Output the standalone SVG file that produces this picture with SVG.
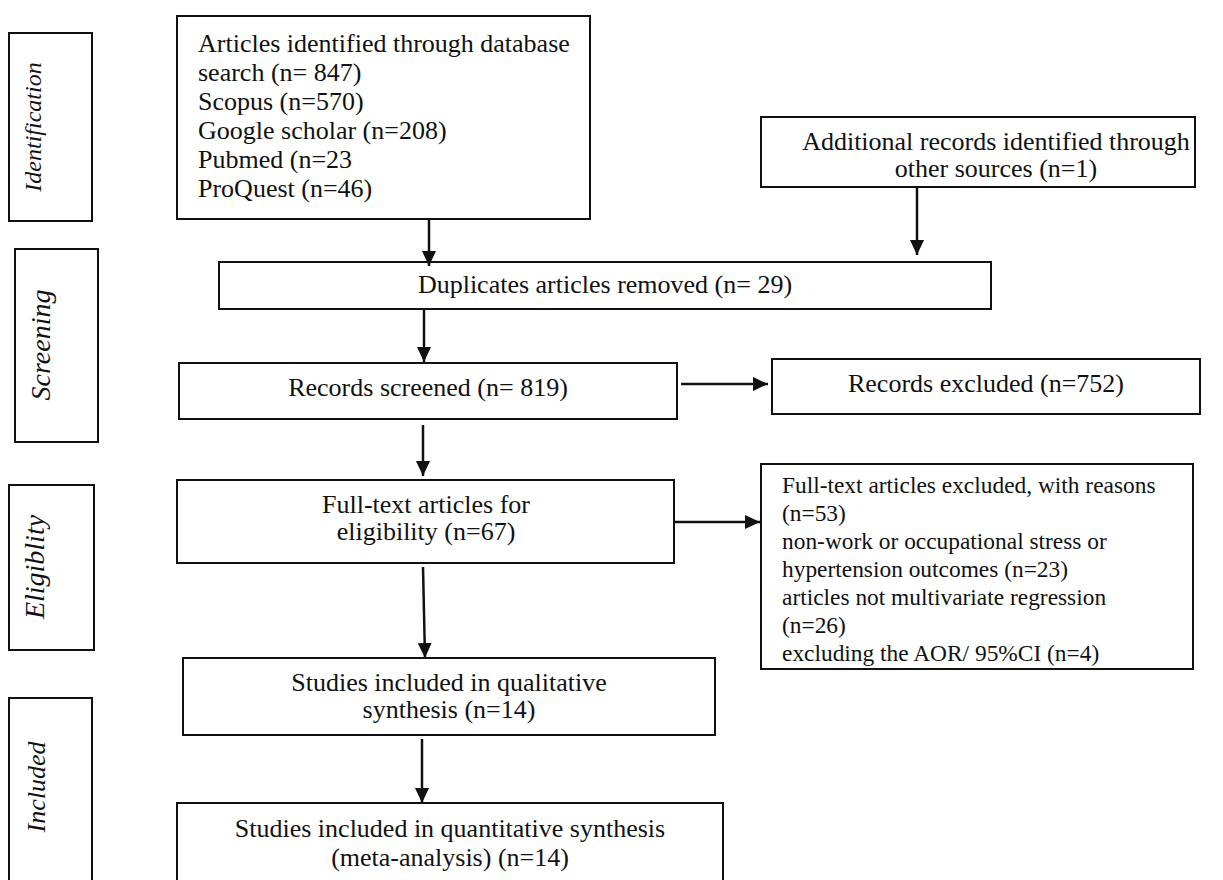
<svg xmlns="http://www.w3.org/2000/svg" width="1223" height="880" viewBox="0 0 1223 880">
<style>
.box{fill:#fff;stroke:#111;stroke-width:2}
.t{font-family:"Liberation Serif","Times New Roman",serif;font-size:26px;fill:#111}
.c{text-anchor:middle}
.s{font-size:23.4px}
.lab{font-family:"Liberation Serif","Times New Roman",serif;font-style:italic;fill:#111;text-anchor:middle}
.ar{stroke:#111;stroke-width:2.5;fill:none;marker-end:url(#ah)}
</style>
<defs>
<marker id="ah" markerUnits="userSpaceOnUse" markerWidth="16" markerHeight="14" refX="15" refY="7" orient="auto">
<path d="M0,0 L15,7 L0,14 z" fill="#111"/>
</marker>
</defs>
<rect width="1223" height="880" fill="#fff"/>

<g id="label-identification">
<rect class="box" x="9" y="33" width="83" height="188"/>
<text class="lab" font-size="24" transform="translate(41,127) rotate(-90)">Identification</text>
</g>
<g id="label-screening">
<rect class="box" x="15" y="249" width="83" height="193"/>
<text class="lab" font-size="28" transform="translate(50,345) rotate(-90)">Screening</text>
</g>
<g id="label-eligibility">
<rect class="box" x="9" y="485" width="85" height="165"/>
<text class="lab" font-size="28" transform="translate(44,567) rotate(-90)">Eligiblity</text>
</g>
<g id="label-included">
<rect class="box" x="9" y="698" width="83" height="190"/>
<text class="lab" font-size="26" transform="translate(45,787) rotate(-90)">Included</text>
</g>

<g id="node-identified">
<rect class="box" x="177" y="16" width="413" height="203"/>
<text class="t" x="198" y="52">Articles identified through database</text>
<text class="t" x="198" y="81">search (n= 847)</text>
<text class="t" x="198" y="110">Scopus (n=570)</text>
<text class="t" x="198" y="139">Google scholar (n=208)</text>
<text class="t" x="198" y="168">Pubmed (n=23</text>
<text class="t" x="198" y="197">ProQuest (n=46)</text>
</g>
<g id="node-additional">
<rect class="box" x="761" y="117" width="434" height="70"/>
<text class="t c" x="996" y="150">Additional records identified through</text>
<text class="t c" x="996" y="177">other sources (n=1)</text>
</g>
<g id="node-duplicates">
<rect class="box" x="219" y="262" width="772" height="47"/>
<text class="t c" x="605" y="293">Duplicates articles removed (n= 29)</text>
</g>
<g id="node-screened">
<rect class="box" x="179" y="363" width="498" height="56"/>
<text class="t c" x="428" y="396">Records screened (n= 819)</text>
</g>
<g id="node-excluded">
<rect class="box" x="772" y="359" width="428" height="55"/>
<text class="t c" x="986" y="392">Records excluded (n=752)</text>
</g>
<g id="node-fulltext">
<rect class="box" x="177" y="480" width="497" height="83"/>
<text class="t c" x="426" y="513">Full-text articles for</text>
<text class="t c" x="426" y="540">eligibility (n=67)</text>
</g>
<g id="node-fulltext-excluded">
<rect class="box" x="761" y="464" width="432" height="205"/>
<text class="t s" x="782" y="493">Full-text articles excluded, with reasons</text>
<text class="t s" x="782" y="521">(n=53)</text>
<text class="t s" x="782" y="549">non-work or occupational stress or</text>
<text class="t s" x="782" y="577">hypertension outcomes (n=23)</text>
<text class="t s" x="782" y="605">articles not multivariate regression</text>
<text class="t s" x="782" y="633">(n=26)</text>
<text class="t s" x="782" y="661">excluding the AOR/ 95%CI (n=4)</text>
</g>
<g id="node-qualitative">
<rect class="box" x="183" y="658" width="532" height="77"/>
<text class="t c" x="449" y="691">Studies included in qualitative</text>
<text class="t c" x="449" y="718">synthesis (n=14)</text>
</g>
<g id="node-quantitative">
<rect class="box" x="177" y="803" width="546" height="100"/>
<text class="t c" x="450" y="837">Studies included in quantitative synthesis</text>
<text class="t c" x="450" y="866">(meta-analysis) (n=14)</text>
</g>

<g id="connectors">
<line class="ar" x1="429" y1="219" x2="429" y2="266"/>
<line class="ar" x1="917" y1="187" x2="917" y2="255"/>
<line class="ar" x1="424" y1="310" x2="424" y2="362"/>
<line class="ar" x1="681" y1="384" x2="768" y2="384"/>
<line class="ar" x1="423" y1="425" x2="423" y2="476"/>
<line class="ar" x1="674" y1="522" x2="760" y2="522"/>
<line class="ar" x1="423" y1="567" x2="425" y2="658"/>
<line class="ar" x1="422" y1="739" x2="422" y2="803"/>
</g>
</svg>
